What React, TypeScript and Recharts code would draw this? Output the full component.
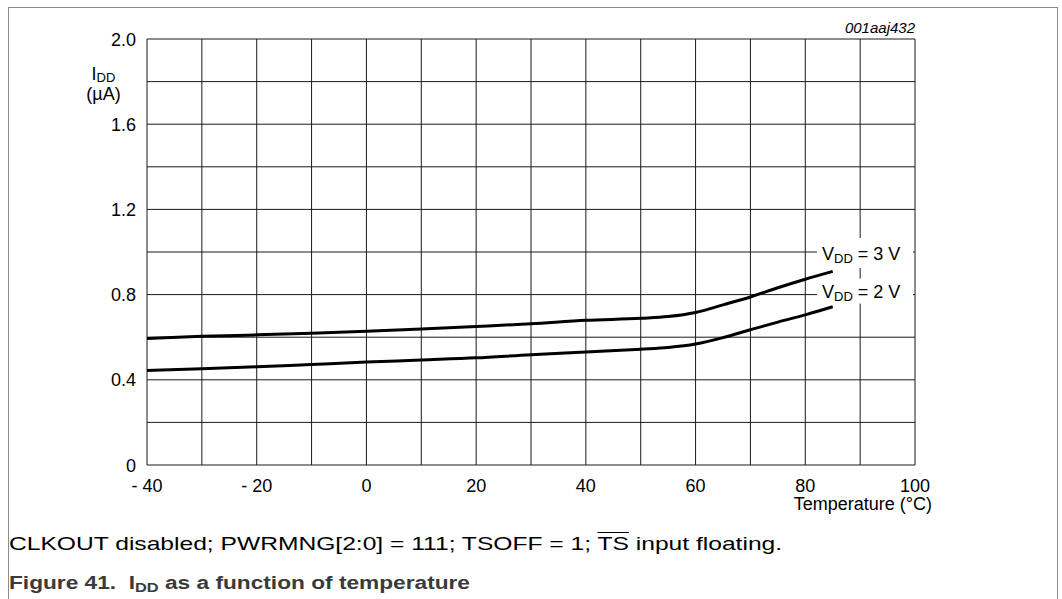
import { CartesianGrid, Label, Line, LineChart, ReferenceDot, XAxis, YAxis } from 'recharts'

const temps = [-40, -30, -20, -10, 0, 10, 20, 30, 40, 50, 55, 60, 65, 70, 75, 80, 85]
// I_DD (µA) at VDD = 3 V
const idd3V = [0.594, 0.604, 0.611, 0.619, 0.628, 0.638, 0.65, 0.663, 0.679, 0.689, 0.697, 0.716, 0.752, 0.789, 0.832, 0.872, 0.909]
// I_DD (µA) at VDD = 2 V
const idd2V = [0.444, 0.452, 0.461, 0.472, 0.483, 0.493, 0.503, 0.518, 0.53, 0.544, 0.552, 0.568, 0.598, 0.635, 0.671, 0.705, 0.743]

const xTicks = [-40, -30, -20, -10, 0, 10, 20, 30, 40, 50, 60, 70, 80, 90, 100]
const yTicks = [0, 0.2, 0.4, 0.6, 0.8, 1.0, 1.2, 1.4, 1.6, 1.8, 2.0]

const FONT = "'Liberation Sans', Arial, Helvetica, sans-serif"

const data = temps.map((t, i) => ({ t, v3: idd3V[i], v2: idd2V[i] }))

function XTick(props: any) {
  const { x, y, payload } = props
  const v = payload.value as number
  if (v % 20 !== 0) return <g />
  return (
    <text x={x} y={y + 27} textAnchor="middle" fontSize={18} fill="#000" fontFamily={FONT}>
      {v < 0 ? `- ${-v}` : `${v}`}
    </text>
  )
}

function YTick(props: any) {
  const { x, y, payload } = props
  const v = payload.value as number
  if (Math.round(v * 10) % 4 !== 0) return <g />
  return (
    <text x={x - 11} y={y + 6.5} textAnchor="end" fontSize={18} fill="#000" fontFamily={FONT}>
      {v === 0 ? '0' : v.toFixed(1)}
    </text>
  )
}

function TempLabel(props: any) {
  const vb = props.viewBox
  return (
    <text x={vb.x + vb.width + 17} y={vb.y + 45} textAnchor="end" fontSize={18} fill="#000" fontFamily={FONT}>
      Temperature (°C)
    </text>
  )
}

function IddLabel(props: any) {
  const vb = props.viewBox
  const cx = vb.x + 103.5
  return (
    <g fontFamily={FONT} fill="#000" fontSize={18}>
      <text x={cx} y={vb.y + 40.5} textAnchor="middle">
        I
        <tspan fontSize={13} dy={2.5}>DD</tspan>
      </text>
      <text x={cx} y={vb.y + 60.5} textAnchor="middle">(µA)</text>
    </g>
  )
}

// white-backed curve tag, drawn left of the anchor point
function vddTag(volts: string, top: number, bottom: number, base: number) {
  return (props: any) => {
    const { cx, cy } = props
    return (
      <g fontFamily={FONT} fill="#000" fontSize={18}>
        <rect x={cx - 98} y={cy + top} width={96} height={bottom - top} fill="#fff" />
        <text x={cx - 93} y={cy + base}>
          V
          <tspan fontSize={13} dy={3}>DD</tspan>
          <tspan dy={-3}>{` = ${volts} V`}</tspan>
        </text>
      </g>
    )
  }
}

export default function App() {
  return (
    <div
      style={{
        position: 'absolute',
        left: 0,
        top: 0,
        width: 1062,
        height: 599,
        background: '#fff',
        overflow: 'hidden',
        fontFamily: FONT,
      }}
    >
      {/* figure frame, open at the bottom */}
      <div
        style={{
          position: 'absolute',
          left: 8,
          top: 7,
          width: 1048,
          height: 600,
          borderTop: '1px solid #8c8c8c',
          borderLeft: '1px solid #8c8c8c',
          borderRight: '1px solid #8c8c8c',
        }}
      />

      <div style={{ position: 'absolute', left: 0, top: 0 }}>
        <LineChart width={1062} height={599} data={data} margin={{ top: 39, right: 147, bottom: 0, left: 0 }}>
          <CartesianGrid stroke="#1a1a1a" strokeWidth={1} />
          <XAxis
            dataKey="t"
            type="number"
            domain={[-40, 100]}
            ticks={xTicks}
            interval={0}
            height={134}
            axisLine={false}
            tickLine={false}
            tickSize={0}
            tickMargin={0}
            tick={(p: any) => <XTick {...p} />}
          >
            <Label content={TempLabel} />
          </XAxis>
          <YAxis
            type="number"
            domain={[0, 2]}
            ticks={yTicks}
            interval={0}
            width={147}
            axisLine={false}
            tickLine={false}
            tickSize={0}
            tickMargin={0}
            tick={(p: any) => <YTick {...p} />}
          >
            <Label content={IddLabel} />
          </YAxis>
          <ReferenceDot x={100} y={1.0} r={0} shape={vddTag('3', -14, 16, 8)} />
          <ReferenceDot x={100} y={0.8} r={0} shape={vddTag('2', -16, 9, 3)} />
          <Line
            type="monotone"
            dataKey="v3"
            stroke="#000"
            strokeWidth={3}
            dot={false}
            activeDot={false}
            isAnimationActive={false}
          />
          <Line
            type="monotone"
            dataKey="v2"
            stroke="#000"
            strokeWidth={3}
            dot={false}
            activeDot={false}
            isAnimationActive={false}
          />
        </LineChart>
      </div>

      <svg width={1062} height={599} style={{ position: 'absolute', left: 0, top: 0, pointerEvents: 'none' }}>
        <text x={915} y={33} textAnchor="end" fontSize={15} fontStyle="italic" fill="#000" fontFamily={FONT}>
          001aaj432
        </text>
      </svg>

      <div
        style={{
          position: 'absolute',
          left: 9,
          top: 534,
          fontSize: 18.5,
          lineHeight: '20px',
          color: '#000',
          whiteSpace: 'nowrap',
          transform: 'scaleX(1.33)',
          transformOrigin: 'left top',
        }}
      >
        CLKOUT disabled; PWRMNG[2:0] = 111; TSOFF = 1; <span style={{ textDecoration: 'overline' }}>TS</span> input
        floating.
      </div>
      <div
        style={{
          position: 'absolute',
          left: 9,
          top: 573,
          fontSize: 18,
          lineHeight: '20px',
          fontWeight: 'bold',
          color: '#3a3a3a',
          whiteSpace: 'nowrap',
          transform: 'scaleX(1.26)',
          transformOrigin: 'left top',
        }}
      >
        Figure 41.&nbsp; I<span style={{ fontSize: 13, verticalAlign: -3 }}>DD</span> as a function of temperature
      </div>
    </div>
  )
}
